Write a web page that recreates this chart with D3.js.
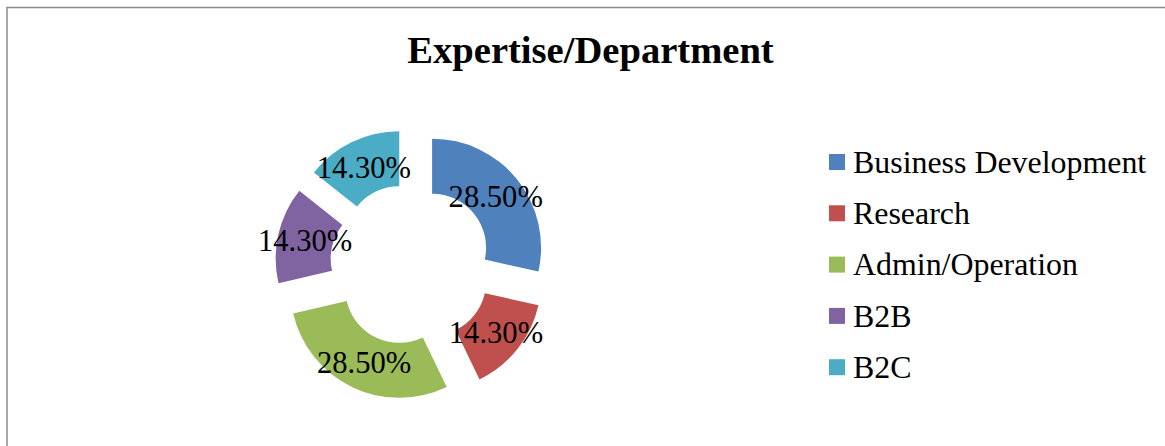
<!DOCTYPE html>
<html lang="en">
<head>
    <meta charset="UTF-8">
    <title>Expertise/Department</title>
    <script src="https://cdn.jsdelivr.net/npm/d3@7"></script>
    <style>
        html, body { margin: 0; padding: 0; background: white; }
        svg { display: block; font-family: "Liberation Serif", "Times New Roman", serif; }
    </style>
</head>
<body>
    <div id="chart"></div>
    <script>
        const categories = ["Business Development", "Research", "Admin/Operation", "B2B", "B2C"];
        const values = [28.5, 14.3, 28.5, 14.3, 14.3];
        const labels = ["28.50%", "14.30%", "28.50%", "14.30%", "14.30%"];
        const colors = ["#4F81BD", "#C0504D", "#9BBB59", "#8064A2", "#4BACC6"];

        (() => {
            const width = 1165;
            const height = 446;

            const svg = d3.select("#chart").append("svg")
                .attr("width", width)
                .attr("height", height);

            // chart frame, right/bottom edges run off the picture
            svg.append("rect")
                .attr("x", 7)
                .attr("y", 7.5)
                .attr("width", 1300)
                .attr("height", 600)
                .attr("fill", "white")
                .attr("stroke", "#8a8a8a")
                .attr("stroke-width", 1.5);

            svg.append("text")
                .attr("x", 590.5)
                .attr("y", 63)
                .attr("text-anchor", "middle")
                .attr("font-size", 38.6)
                .attr("font-weight", "bold")
                .text("Expertise/Department");

            const color = d3.scaleOrdinal().domain(categories).range(colors);

            const pie = d3.pie().sort(null).value((d, i) => values[i]);
            const arcs = pie(categories);

            const outerR = 109, innerR = 54, explode = 27;
            const arc = d3.arc().innerRadius(innerR).outerRadius(outerR);

            const g = svg.append("g")
                .attr("transform", "translate(411,264.5)");

            const slice = g.selectAll("g.slice")
                .data(arcs)
                .join("g")
                .attr("class", "slice")
                .attr("transform", d => {
                    const a = (d.startAngle + d.endAngle) / 2;
                    return `translate(${Math.sin(a) * explode},${-Math.cos(a) * explode})`;
                });

            slice.append("path")
                .attr("d", arc)
                .attr("fill", d => color(d.data));

            slice.append("text")
                .attr("transform", d => `translate(${arc.centroid(d)})`)
                .attr("text-anchor", "middle")
                .attr("dy", "0.35em")
                .attr("font-size", 30.6)
                .attr("fill", "black")
                .text((d, i) => labels[i]);

            const legend = svg.append("g")
                .attr("transform", "translate(829,154)");

            const item = legend.selectAll("g")
                .data(categories)
                .join("g")
                .attr("transform", (d, i) => `translate(0,${i * 51.3})`);

            item.append("rect")
                .attr("width", 16)
                .attr("height", 16)
                .attr("fill", d => color(d));

            item.append("text")
                .attr("x", 24)
                .attr("y", 18.7)
                .attr("font-size", 31.9)
                .text(d => d);
        })();
    </script>
</body>
</html>
